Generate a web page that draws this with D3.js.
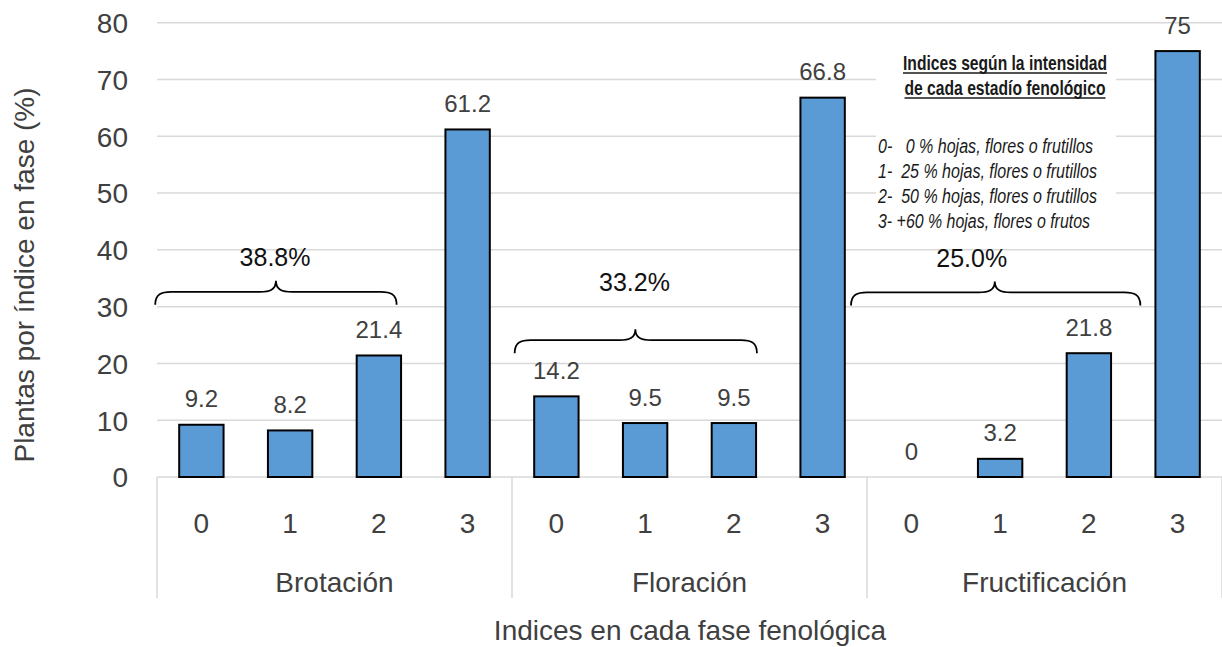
<!DOCTYPE html>
<html>
<head>
<meta charset="utf-8">
<script src="https://cdn.jsdelivr.net/npm/d3@7"></script>
<style>
  html, body { margin: 0; padding: 0; background: #fff; }
  svg { display: block; font-family: "Liberation Sans", Arial, sans-serif; }
  .narrow { font-family: "Liberation Sans Narrow", "Arial Narrow", "Liberation Sans", Arial, sans-serif; white-space: pre; }
</style>
</head>
<body>
<svg id="chart" width="1222" height="647"></svg>
<script>
// Phenological phases and intensity indices
const phases = ["Brotación", "Floración", "Fructificación"];
const indices = ["0", "1", "2", "3"];

// Percentage of plants at each index, per phase
const brotacion = [9.2, 8.2, 21.4, 61.2];
const floracion = [14.2, 9.5, 9.5, 66.8];
const fructificacion = [0, 3.2, 21.8, 75];

const yTicks = [0, 10, 20, 30, 40, 50, 60, 70, 80];

const yTitle = "Plantas por índice en fase (%)";
const xTitle = "Indices en cada fase fenológica";

const legendTitle = ["Indices según la intensidad", "de cada estadío fenológico"];
const legendLines = [
  "0-   0 % hojas, flores o frutillos",
  "1-  25 % hojas, flores o frutillos",
  "2-  50 % hojas, flores o frutillos",
  "3- +60 % hojas, flores o frutos"
];

// ---- build rows from the arrays ----
const seriesByPhase = [brotacion, floracion, fructificacion];
const rows = [];
phases.forEach((p, pi) => {
  indices.forEach((idx, ii) => {
    rows.push({ key: p + "|" + idx, phase: p, index: idx, pi, ii, value: seriesByPhase[pi][ii] });
  });
});

const svg = d3.select("#chart");
const plotLeft = 157, plotRight = 1222, plotTop = 22.7, plotBottom = 477;

const x = d3.scaleBand()
  .domain(rows.map(d => d.key))
  .range([plotLeft, plotRight])
  .paddingInner(0.5)
  .paddingOuter(0.25);
const step = x.step();

const y = d3.scaleLinear().domain([0, 80]).range([plotBottom, plotTop]);

const textColor = "#404040";
const gridColor = "#d9d9d9";

// gridlines (including baseline)
svg.append("g")
  .selectAll("line")
  .data(yTicks)
  .join("line")
  .attr("x1", plotLeft).attr("x2", plotRight)
  .attr("y1", d => y(d)).attr("y2", d => y(d))
  .attr("stroke", gridColor).attr("stroke-width", 1.5);

// y tick labels
svg.append("g")
  .selectAll("text")
  .data(yTicks)
  .join("text")
  .attr("x", 128)
  .attr("y", d => y(d) + 10.3)
  .attr("text-anchor", "end")
  .attr("font-size", 28)
  .attr("fill", textColor)
  .text(d => d);

// group separators on the category axis
const sepX = d3.range(phases.length + 1).map(i => plotLeft + i * indices.length * step);
svg.append("g")
  .selectAll("line")
  .data(sepX)
  .join("line")
  .attr("x1", d => d).attr("x2", d => d)
  .attr("y1", plotBottom).attr("y2", 598)
  .attr("stroke", gridColor).attr("stroke-width", 1.5);

// index tick labels
svg.append("g")
  .selectAll("text")
  .data(rows)
  .join("text")
  .attr("x", d => x(d.key) + x.bandwidth() / 2)
  .attr("y", 533)
  .attr("text-anchor", "middle")
  .attr("font-size", 28)
  .attr("fill", textColor)
  .text(d => d.index);

// phase labels
svg.append("g")
  .selectAll("text")
  .data(phases)
  .join("text")
  .attr("x", (d, i) => (sepX[i] + sepX[i + 1]) / 2)
  .attr("y", 592)
  .attr("text-anchor", "middle")
  .attr("font-size", 28)
  .attr("fill", textColor)
  .text(d => d);

// legend panel (white background over the grid)
svg.append("rect")
  .attr("x", 876).attr("y", 42)
  .attr("width", 240).attr("height", 195)
  .attr("fill", "#fff");

const lg = svg.append("g").attr("fill", "#1a1a1a");
const titleWidths = [204, 201];
legendTitle.forEach((t, i) => {
  const by = 70 + i * 25;
  lg.append("text")
    .attr("class", "narrow")
    .attr("x", 1005).attr("y", by)
    .attr("text-anchor", "middle")
    .attr("font-size", 21)
    .attr("font-weight", "bold")
    .attr("textLength", titleWidths[i])
    .attr("lengthAdjust", "spacingAndGlyphs")
    .text(t);
  lg.append("line")
    .attr("x1", 1005 - titleWidths[i] / 2).attr("x2", 1005 + titleWidths[i] / 2)
    .attr("y1", by + 3).attr("y2", by + 3)
    .attr("stroke", "#1a1a1a").attr("stroke-width", 1.5);
});
const lineWidths = [215, 219, 219, 212];
legendLines.forEach((t, i) => {
  lg.append("text")
    .attr("class", "narrow")
    .attr("x", 878).attr("y", 153 + i * 25)
    .attr("font-size", 20.5)
    .attr("font-style", "italic")
    .attr("textLength", lineWidths[i])
    .attr("lengthAdjust", "spacingAndGlyphs")
    .text(t);
});

// bars
svg.append("g")
  .selectAll("rect")
  .data(rows)
  .join("rect")
  .attr("x", d => x(d.key))
  .attr("y", d => y(d.value))
  .attr("width", x.bandwidth())
  .attr("height", d => y(0) - y(d.value))
  .attr("fill", "#5b9bd5")
  .attr("stroke", d => d.value > 0 ? "#000" : "none")
  .attr("stroke-width", 2);

// value labels
svg.append("g")
  .selectAll("text")
  .data(rows)
  .join("text")
  .attr("x", d => x(d.key) + x.bandwidth() / 2)
  .attr("y", d => y(d.value) - 17.5)
  .attr("text-anchor", "middle")
  .attr("font-size", 24)
  .attr("fill", textColor)
  .text(d => d.value);

// braces grouping indices 0–2 in each phase, with their summed share
const braceStart = [-0.02, 4.03, 7.82];   // in band steps from the left edge
const braceEnd = [2.70, 6.76, 11.08];
const braceTip = [1.34, 5.39, 9.44];
const braceLevel = [32.6, 24.1, 32.5];    // flat part, in axis units
const braceLabelX = [1.33, 5.38, 9.18];
const braceLabelY = [37.1, 32.75, 37.0];

function bracePath(x1, x2, xm, yf) {
  const drop = 13, rise = 11, r = 16;
  return `M${x1},${yf + drop}` +
    `C${x1},${yf + 2} ${x1 + r * 0.4},${yf} ${x1 + r},${yf}` +
    `L${xm - r},${yf}` +
    `C${xm - r * 0.4},${yf} ${xm},${yf - 2} ${xm},${yf - rise}` +
    `C${xm},${yf - 2} ${xm + r * 0.4},${yf} ${xm + r},${yf}` +
    `L${x2 - r},${yf}` +
    `C${x2 - r * 0.4},${yf} ${x2},${yf + 2} ${x2},${yf + drop}`;
}

const braces = svg.append("g");
phases.forEach((p, pi) => {
  const share = d3.sum(seriesByPhase[pi].slice(0, 3));
  braces.append("path")
    .attr("d", bracePath(plotLeft + braceStart[pi] * step, plotLeft + braceEnd[pi] * step,
                         plotLeft + braceTip[pi] * step, y(braceLevel[pi])))
    .attr("fill", "none")
    .attr("stroke", "#000")
    .attr("stroke-width", 1.8);
  braces.append("text")
    .attr("x", plotLeft + braceLabelX[pi] * step)
    .attr("y", y(braceLabelY[pi]))
    .attr("text-anchor", "middle")
    .attr("font-size", 25)
    .attr("fill", "#111")
    .text(share.toFixed(1) + "%");
});

// axis titles
svg.append("text")
  .attr("transform", "translate(34,275) rotate(-90)")
  .attr("text-anchor", "middle")
  .attr("font-size", 28)
  .attr("fill", textColor)
  .text(yTitle);

svg.append("text")
  .attr("x", 690).attr("y", 640)
  .attr("text-anchor", "middle")
  .attr("font-size", 28)
  .attr("fill", textColor)
  .text(xTitle);
</script>
</body>
</html>
